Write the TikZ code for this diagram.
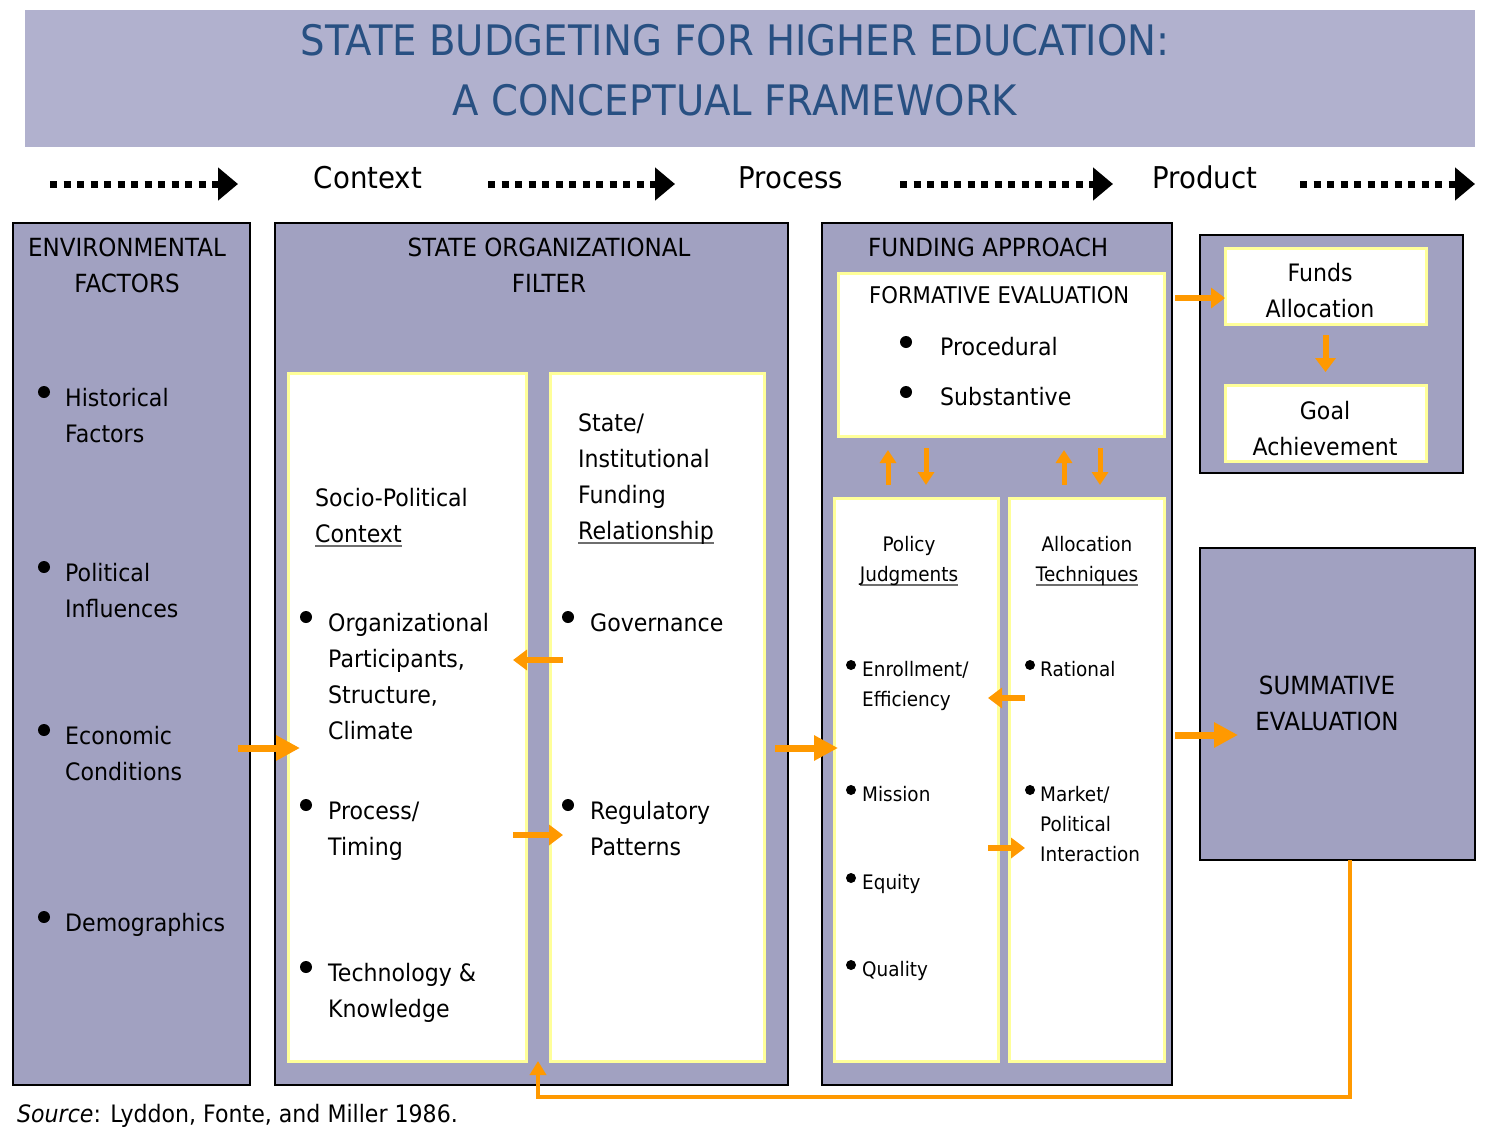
\documentclass[tikz,border=0pt]{standalone}
\usepackage{fontspec}
\setmainfont{DejaVu Sans}[FakeStretch=0.92]
\usepackage{xcolor}
\usetikzlibrary{arrows.meta, positioning, calc}

\definecolor{bandfill}{RGB}{177,177,206}
\definecolor{boxfill}{RGB}{161,161,193}
\definecolor{titleblue}{RGB}{40,80,130}
\definecolor{arrorange}{RGB}{255,153,0}
\definecolor{cardline}{RGB}{255,255,153}
\definecolor{ulgray}{RGB}{110,110,110}

\newsavebox{\ulbox}
\newcommand{\ulw}[1]{\sbox{\ulbox}{#1}\rlap{\textcolor{ulgray}{\rule[-5pt]{\wd\ulbox}{1.8pt}}}\usebox{\ulbox}}

\tikzset{
  panel/.style={draw=black, line width=2pt, fill=boxfill, anchor=north west, inner sep=0pt, outer sep=0pt},
  card/.style={draw=cardline, line width=3pt, fill=white, anchor=north west, inner sep=0pt, outer sep=0pt},
  txt/.style={anchor=base west, align=left, inner sep=0pt, font=\fontsize{24}{36}\selectfont},
  ctxt/.style={anchor=base, align=center, inner sep=0pt, font=\fontsize{24}{36}\selectfont},
  headtxt/.style={anchor=base, align=center, inner sep=0pt, font=\fontsize{25}{36}\selectfont},
  smalltxt/.style={anchor=base west, align=left, inner sep=0pt, font=\fontsize{20}{30}\selectfont},
  bigarrow/.style={arrorange, line width=7pt, -{Triangle[length=24pt,width=24pt]}},
  smallarrow/.style={arrorange, line width=6pt, -{Triangle[length=14pt,width=20pt]}},
  tinyarrow/.style={arrorange, line width=5pt, -{Triangle[length=13pt,width=16pt]}},
  flow/.style={line width=7pt, dash pattern=on 7pt off 6.5pt, -{Triangle[length=20pt,width=32pt]}}
}

\begin{document}
\begin{tikzpicture}[x=1pt, y=-1pt]
\useasboundingbox (0,0) rectangle (1501,1143);

% Title band
\node[fill=bandfill, minimum width=1450pt, minimum height=137pt, inner sep=0pt] (title) at (750,78.5) {};
\node[anchor=base, inner sep=0pt, text=titleblue, font=\fontsize{42}{60}\selectfont] (title1) at (735,55) {STATE BUDGETING FOR HIGHER EDUCATION:};
\node[anchor=base, inner sep=0pt, text=titleblue, font=\fontsize{42}{60}\selectfont] (title2) at (735,115) {A CONCEPTUAL FRAMEWORK};

% Stages
\node[anchor=base, inner sep=0pt, font=\fontsize{30}{36}\selectfont] (context) at (368,188) {Context};
\node[anchor=base, inner sep=0pt, font=\fontsize{30}{36}\selectfont] (process) at (791,188) {Process};
\node[anchor=base, inner sep=0pt, font=\fontsize{30}{36}\selectfont] (product) at (1205,188) {Product};
\coordinate (f1s) at (50,184);   \coordinate (f1e) at (238,184);
\coordinate (f2s) at (488,184);  \coordinate (f2e) at (675,184);
\coordinate (f3s) at (900,184);  \coordinate (f3e) at (1113,184);
\coordinate (f4s) at (1300,184); \coordinate (f4e) at (1475,184);
\draw[flow] (f1s) -- (f1e);
\draw[flow] (f2s) -- (f2e);
\draw[flow] (f3s) -- (f3e);
\draw[flow] (f4s) -- (f4e);

% Panels
\node[panel, minimum width=237pt, minimum height=862pt] (env) at (13,223) {};
\node[panel, minimum width=513pt, minimum height=862pt] (sof) at (275,223) {};
\node[panel, minimum width=350pt, minimum height=862pt] (fund) at (822,223) {};
\node[panel, minimum width=263pt, minimum height=238pt] (prod) at (1200,235) {};
\node[panel, minimum width=275pt, minimum height=312pt] (summative) at (1200,548) {};

% Cards
\node[card, minimum width=238pt, minimum height=688pt] (socio) at (288,373) {};
\node[card, minimum width=214pt, minimum height=688pt] (relbox) at (550,373) {};
\node[card, minimum width=326pt, minimum height=163pt] (formative) at (838,273) {};
\node[card, minimum width=164pt, minimum height=563pt] (policy) at (834,498) {};
\node[card, minimum width=155pt, minimum height=563pt] (alloc) at (1009,498) {};
\node[card, minimum width=201pt, minimum height=76pt] (funds) at (1225,248) {};
\node[card, minimum width=201pt, minimum height=76pt] (goal) at (1225,385) {};

% Environmental factors (base = last line)
\node[headtxt] (envhead) at (127,292) {ENVIRONMENTAL\\FACTORS};
\fill (44,392) circle (6pt);
\node[txt] (hist) at (65,442) {Historical\\Factors};
\fill (44,567) circle (6pt);
\node[txt] (polinf) at (65,617) {Political\\Influences};
\fill (44,730) circle (6pt);
\node[txt] (econ) at (65,780) {Economic\\Conditions};
\fill (44,917) circle (6pt);
\node[txt] (demo) at (65,931) {Demographics};

% State organizational filter
\node[headtxt] (sofhead) at (549,292) {STATE ORGANIZATIONAL\\FILTER};
\node[txt] (sochead) at (315,542) {Socio-Political\\\ulw{Context}};
\fill (306,617) circle (6pt);
\node[txt] (orgpart) at (328,739) {Organizational\\Participants,\\Structure,\\Climate};
\fill (306,805) circle (6pt);
\node[txt] (timing) at (328,855) {Process/\\Timing};
\fill (306,967) circle (6pt);
\node[txt] (tech) at (328,1017) {Technology \&\\Knowledge};
\node[txt] (relhead) at (578,539) {State/\\Institutional\\Funding\\\ulw{Relationship}};
\fill (568,617) circle (6pt);
\node[txt] (gov) at (590,631) {Governance};
\fill (568,805) circle (6pt);
\node[txt] (regul) at (590,855) {Regulatory\\Patterns};

% Funding approach
\node[txt, font=\fontsize{25}{36}\selectfont] (fundhead) at (868,256) {FUNDING APPROACH};
\node[txt, font=\fontsize{23}{36}\selectfont] (formhead) at (869,303) {FORMATIVE EVALUATION};
\fill (906,342) circle (6pt);
\node[txt] (proced) at (940,355) {Procedural};
\fill (906,392) circle (6pt);
\node[txt] (subst) at (940,405) {Substantive};
\node[anchor=base, align=center, inner sep=0pt, font=\fontsize{20}{30}\selectfont] (polhead) at (909,581) {Policy\\\ulw{Judgments}};
\node[anchor=base, align=center, inner sep=0pt, font=\fontsize{20}{30}\selectfont] (allochead) at (1087,581) {Allocation\\\ulw{Techniques}};
\fill (851,665) circle (5pt);
\node[smalltxt] (enroll) at (862,706) {Enrollment/\\Efficiency};
\fill (851,790) circle (5pt);
\node[smalltxt] (mission) at (862,801) {Mission};
\fill (851,878) circle (5pt);
\node[smalltxt] (equity) at (862,889) {Equity};
\fill (851,965) circle (5pt);
\node[smalltxt] (quality) at (862,976) {Quality};
\fill (1030,665) circle (5pt);
\node[smalltxt] (rational) at (1040,676) {Rational};
\fill (1030,790) circle (5pt);
\node[smalltxt] (market) at (1040,861) {Market/\\Political\\Interaction};

% Product
\node[ctxt] (fundstxt) at (1320,317) {Funds\\Allocation};
\node[ctxt] (goaltxt) at (1325,455) {Goal\\Achievement};
\node[headtxt] (sumtxt) at (1327,730) {SUMMATIVE\\EVALUATION};

% Source
\node[txt] (source) at (17,1122) {\textit{Source}: Lyddon, Fonte, and Miller 1986.};

% Orange arrows
\draw[bigarrow] ($(env.north east)+(-12,525)$) -- ($(socio.north west)+(12,375)$);
\draw[smallarrow] ($(relbox.north west)+(13,287)$) -- ($(socio.north east)+(-13,287)$);
\draw[smallarrow] ($(socio.north east)+(-13,462)$) -- ($(relbox.north west)+(13,462)$);
\draw[bigarrow] ($(sof.north east)+(-13,525)$) -- ($(fund.north west)+(16,525)$);
\draw[tinyarrow] ($(policy.north west)+(54,-13)$) -- ($(formative.south west)+(50,14)$);
\draw[tinyarrow] ($(formative.south west)+(88,12)$) -- ($(policy.north west)+(92,-13)$);
\draw[tinyarrow] ($(alloc.north west)+(55,-13)$) -- ($(formative.south west)+(226,14)$);
\draw[tinyarrow] ($(formative.south west)+(262,12)$) -- ($(alloc.north west)+(91,-13)$);
\draw[smallarrow] ($(alloc.north west)+(16,200)$) -- ($(policy.north east)+(-10,200)$);
\draw[smallarrow] ($(policy.north east)+(-10,350)$) -- ($(alloc.north west)+(16,350)$);
\draw[smallarrow] ($(fund.north east)+(3,75)$) -- ($(funds.north west)+(0,50)$);
\draw[smallarrow] ($(funds.south)+(0,11)$) -- ($(goal.north)+(0,-13)$);
\draw[bigarrow] ($(fund.north east)+(3,512)$) -- ($(summative.north west)+(38,187)$);

% Feedback
\draw[arrorange, line width=4pt, -{Triangle[length=14pt,width=16pt]}]
  ($(summative.south)+(12,0)$) -- ++(0,237) -| ($(socio.south east)!0.5!(relbox.south west)$);
\end{tikzpicture}
\end{document}
